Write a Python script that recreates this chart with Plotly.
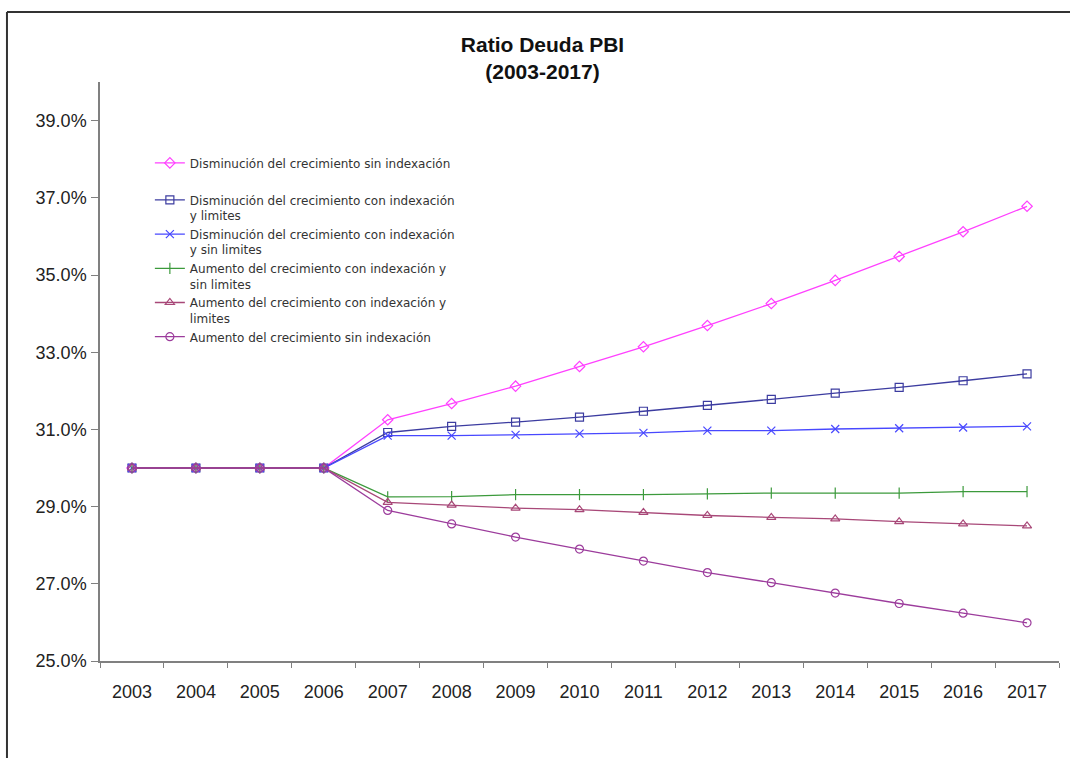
import plotly.graph_objects as go

years = [str(y) for y in range(2003, 2018)]

# Debt-to-GDP ratio (%) under each scenario
dism_sin_idx = [30.0, 30.0, 30.0, 30.0, 31.25, 31.67, 32.12, 32.63, 33.14, 33.69, 34.26, 34.86, 35.48, 36.12, 36.78]
dism_idx_lim = [30.0, 30.0, 30.0, 30.0, 30.92, 31.08, 31.19, 31.32, 31.47, 31.62, 31.78, 31.94, 32.09, 32.26, 32.44]
dism_idx_sin_lim = [30.0, 30.0, 30.0, 30.0, 30.84, 30.84, 30.86, 30.89, 30.91, 30.97, 30.97, 31.01, 31.03, 31.05, 31.08]
aum_idx_sin_lim = [30.0, 30.0, 30.0, 30.0, 29.25, 29.26, 29.31, 29.31, 29.31, 29.33, 29.35, 29.35, 29.35, 29.39, 29.39]
aum_idx_lim = [30.0, 30.0, 30.0, 30.0, 29.11, 29.04, 28.96, 28.92, 28.85, 28.77, 28.72, 28.68, 28.61, 28.55, 28.50]
aum_sin_idx = [30.0, 30.0, 30.0, 30.0, 28.90, 28.55, 28.21, 27.90, 27.59, 27.29, 27.03, 26.76, 26.49, 26.24, 25.99]

y_ticks = [25, 27, 29, 31, 33, 35, 37, 39]
y_tick_labels = [f"{v:.1f}%" for v in y_ticks]

series = [
    ("Disminución del crecimiento sin indexación", dism_sin_idx, "#ff40ff", "diamond-open"),
    ("Disminución del crecimiento con indexación<br>y limites", dism_idx_lim, "#3c3ca0", "square-open"),
    ("Disminución del crecimiento con indexación<br>y sin limites", dism_idx_sin_lim, "#4848ff", "x-thin-open"),
    ("Aumento del crecimiento con indexación y<br>sin limites", aum_idx_sin_lim, "#3c9a3c", "line-ns-open"),
    ("Aumento del crecimiento con indexación y<br>limites", aum_idx_lim, "#a84878", "triangle-up-open"),
    ("Aumento del crecimiento sin indexación", aum_sin_idx, "#9c3c9c", "circle-open"),
]

fig = go.Figure()
for i, (name, vals, color, symbol) in enumerate(series):
    fig.add_trace(go.Scatter(
        x=years, y=vals, name=name, mode="lines+markers",
        line=dict(color=color, width=1.3),
        marker=dict(symbol=symbol, size=8, color=color, line=dict(color=color, width=1.2)),
        legendgroup="a" if i == 0 else "b",
    ))

axis_font = dict(family="Arial, Liberation Sans, sans-serif", size=18, color="#222222")

fig.update_layout(
    width=1070, height=758,
    margin=dict(l=100, r=11, t=82, b=97),
    paper_bgcolor="white", plot_bgcolor="white",
    title=dict(
        text="<b>Ratio Deuda PBI<br>(2003-2017)</b>",
        x=0.507, xref="container", xanchor="center",
        y=0.932, yref="container", yanchor="top",
        font=dict(family="Arial, Liberation Sans, sans-serif", size=21, color="#111111"),
    ),
    xaxis=dict(
        type="category", range=[-0.5, 14.5],
        showline=True, linecolor="#808080", linewidth=1.5,
        ticks="outside", tickson="boundaries", ticklen=5, tickcolor="#808080",
        showgrid=False, tickfont=axis_font, ticklabelstandoff=14,
    ),
    yaxis=dict(
        range=[25, 40], tickmode="array", tickvals=y_ticks, ticktext=y_tick_labels,
        showline=True, linecolor="#808080", linewidth=1.5,
        ticks="outside", ticklen=7, tickcolor="#808080",
        showgrid=False, zeroline=False, tickfont=axis_font, ticklabelstandoff=1,
    ),
    showlegend=True,
    legend=dict(
        x=0.052, y=0.885, xanchor="left", yanchor="top",
        bgcolor="rgba(0,0,0,0)", valign="top",
        font=dict(family="DejaVu Sans, sans-serif", size=12, color="#333333"),
        tracegroupgap=18, itemwidth=30,
    ),
    shapes=[
        # outer chart frame (top and left edges)
        dict(type="line", xref="paper", yref="paper",
             x0=-93 / 958.7, x1=1.02, y0=1 + 70 / 579, y1=1 + 70 / 579,
             line=dict(color="#333333", width=2)),
        dict(type="line", xref="paper", yref="paper",
             x0=-93 / 958.7, x1=-93 / 958.7, y0=1 + 70 / 579, y1=-0.2,
             line=dict(color="#333333", width=2)),
    ],
)

fig.write_html("out.html")
